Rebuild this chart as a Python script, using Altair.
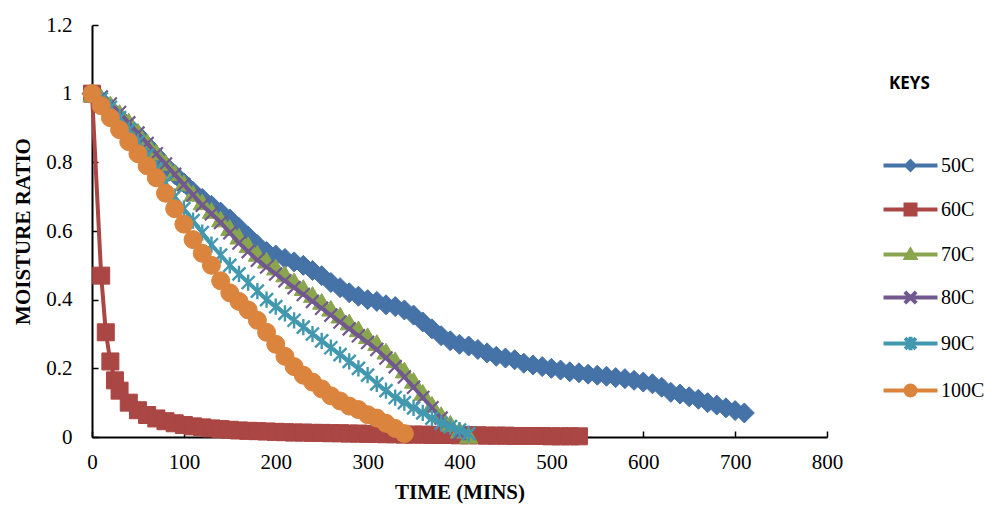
import altair as alt
import pandas as pd

keys = ["50C", "60C", "70C", "80C", "90C", "100C"]
colors = ["#4572A7", "#AA4643", "#89A54E", "#71588F", "#4198AF", "#DB843D"]

# 50C
t_50 = list(range(0, 720, 10))
mr_50 = [1.0, 0.98, 0.955, 0.93, 0.905, 0.88, 0.85, 0.82, 0.79, 0.765,
         0.74, 0.715, 0.695, 0.675, 0.655, 0.635, 0.61, 0.585, 0.56, 0.54,
         0.53, 0.52, 0.51, 0.50, 0.485, 0.47, 0.45, 0.435, 0.42, 0.41,
         0.40, 0.395, 0.385, 0.38, 0.37, 0.355, 0.335, 0.315, 0.295, 0.28,
         0.27, 0.265, 0.255, 0.245, 0.235, 0.23, 0.225, 0.215, 0.21, 0.205,
         0.20, 0.195, 0.19, 0.187, 0.183, 0.18, 0.177, 0.173, 0.17, 0.165,
         0.16, 0.155, 0.145, 0.13, 0.125, 0.117, 0.11, 0.10, 0.093, 0.085,
         0.077, 0.07]

# 60C
t_60 = [0, 10, 15, 20, 25, 30] + list(range(40, 540, 10))
mr_60 = [1.0, 0.47, 0.305, 0.22, 0.165, 0.135,
         0.100, 0.078, 0.064, 0.054, 0.046, 0.040, 0.035, 0.031, 0.028, 0.025,
         0.023, 0.021, 0.019, 0.018, 0.017, 0.016, 0.015, 0.014, 0.013, 0.013,
         0.012, 0.012, 0.011, 0.011, 0.010, 0.010, 0.009, 0.009, 0.008, 0.008,
         0.007, 0.007, 0.007, 0.006, 0.006, 0.006, 0.005, 0.005, 0.005, 0.004,
         0.004, 0.004, 0.003, 0.003, 0.003, 0.003, 0.002, 0.002, 0.002, 0.002]

# 70C
t_70 = list(range(0, 420, 10))
mr_70 = [1.0, 0.99, 0.97, 0.945, 0.92, 0.89, 0.86, 0.83, 0.80, 0.77,
         0.74, 0.71, 0.685, 0.66, 0.635, 0.61, 0.585, 0.56, 0.535, 0.515,
         0.495, 0.475, 0.455, 0.435, 0.415, 0.395, 0.375, 0.355, 0.335, 0.315,
         0.295, 0.275, 0.25, 0.225, 0.195, 0.165, 0.13, 0.095, 0.065, 0.04,
         0.02, 0.005]

# 80C
t_80 = list(range(0, 410, 10))
mr_80 = [1.0, 0.99, 0.97, 0.945, 0.915, 0.885, 0.855, 0.825, 0.795, 0.765,
         0.735, 0.705, 0.675, 0.65, 0.625, 0.595, 0.565, 0.54, 0.515, 0.495,
         0.475, 0.455, 0.435, 0.415, 0.395, 0.375, 0.355, 0.335, 0.315, 0.295,
         0.275, 0.255, 0.23, 0.205, 0.175, 0.145, 0.115, 0.085, 0.055, 0.03,
         0.01]

# 90C
t_90 = list(range(0, 420, 10))
mr_90 = [1.0, 0.985, 0.96, 0.93, 0.895, 0.86, 0.82, 0.78, 0.74, 0.70,
         0.665, 0.63, 0.595, 0.56, 0.53, 0.50, 0.475, 0.45, 0.425, 0.40,
         0.38, 0.36, 0.34, 0.32, 0.30, 0.28, 0.26, 0.24, 0.22, 0.20,
         0.18, 0.155, 0.135, 0.115, 0.10, 0.085, 0.07, 0.055, 0.04, 0.03,
         0.02, 0.01]

# 100C
t_100 = list(range(0, 350, 10))
mr_100 = [1.0, 0.965, 0.93, 0.895, 0.86, 0.825, 0.79, 0.755, 0.71, 0.665,
          0.62, 0.575, 0.535, 0.50, 0.455, 0.42, 0.395, 0.37, 0.34, 0.305,
          0.27, 0.235, 0.205, 0.18, 0.16, 0.14, 0.12, 0.105, 0.09, 0.08,
          0.065, 0.055, 0.04, 0.025, 0.01]

x_ticks = [0, 100, 200, 300, 400, 500, 600, 700, 800]
y_ticks = [0, 0.2, 0.4, 0.6, 0.8, 1.0, 1.2]

times = [t_50, t_60, t_70, t_80, t_90, t_100]
values = [mr_50, mr_60, mr_70, mr_80, mr_90, mr_100]

SERIF = "Liberation Serif"
W, H = 735, 412
TICK = 6

x_enc = alt.X("t:Q", scale=alt.Scale(domain=[0, 800], nice=False, zero=False),
              axis=alt.Axis(values=x_ticks, title="TIME (MINS)", format="d"))
y_enc = alt.Y("mr:Q", scale=alt.Scale(domain=[0, 1.2], nice=False),
              axis=alt.Axis(values=y_ticks, title="MOISTURE RATIO", format="~g"))

marker_styles = [
    dict(shape="diamond", filled=True, size=400, strokeWidth=1),
    dict(shape="square", filled=True, size=289, strokeWidth=1),
    dict(shape="triangle-up", filled=True, size=330, strokeWidth=1),
    dict(shape="M-1,-1L1,1M-1,1L1,-1", filled=False, size=169, strokeWidth=2.2),
    dict(shape="M-1,-1L1,1M-1,1L1,-1M0,-1.25L0,1.25", filled=False, size=169, strokeWidth=2.4),
    dict(shape="circle", filled=True, size=324, strokeWidth=1),
]

# legend symbols: a line through the marker; nested outlines make the markers look solid
legend_paths = [
    "M-2,0L2,0M0,-0.3L0.3,0L0,0.3L-0.3,0ZM0,-0.1L0.1,0L0,0.1L-0.1,0Z",
    "M-2,0L2,0M-0.37,-0.37L0.37,-0.37L0.37,0.37L-0.37,0.37ZM-0.12,-0.12L0.12,-0.12L0.12,0.12L-0.12,0.12Z",
    "M-2,0L2,0M0,-0.32L0.33,0.25L-0.33,0.25ZM0,-0.08L0.1,0.1L-0.1,0.1Z",
    "M-2,0L2,0M-0.42,-0.42L0.42,0.42M-0.42,0.42L0.42,-0.42",
    "M-2,0L2,0M-0.4,-0.4L0.4,0.4M-0.4,0.4L0.4,-0.4M0,-0.5L0,0.5",
    "M-2,0L2,0M0.37,0A0.37,0.37 0 1,1 -0.37,0A0.37,0.37 0 1,1 0.37,0ZM0.15,0A0.15,0.15 0 1,1 -0.15,0A0.15,0.15 0 1,1 0.15,0Z",
]

layers = []
for i, k in enumerate(keys):
    d = pd.DataFrame({"series": k, "t": times[i], "mr": values[i]})
    base = alt.Chart(d)
    line = base.mark_line(color=colors[i], strokeWidth=4).encode(x=x_enc, y=y_enc, order="t:Q")
    st = marker_styles[i]
    pts = base.mark_point(color=colors[i], stroke=colors[i], opacity=1, **st).encode(x=x_enc, y=y_enc)
    layers += [line, pts]

leg_spec = alt.Legend(
    title="KEYS", orient="none", legendX=797, legendY=51,
    titleFont="Open Sans", titleFontSize=17, titleFontWeight="bold", titleColor="black",
    titlePadding=57, labelFont=SERIF, labelFontSize=20, labelColor="black",
    symbolSize=729, rowPadding=16, labelOffset=15, symbolOffset=6,
    symbolStrokeWidth=4, symbolOpacity=1,
)

legend_df = pd.DataFrame({"series": keys})
leg = alt.Chart(legend_df).mark_point(filled=False, opacity=1).encode(
    color=alt.Color("series:N", scale=alt.Scale(domain=keys, range=colors), legend=leg_spec),
    shape=alt.Shape("series:N", scale=alt.Scale(domain=keys, range=legend_paths), legend=leg_spec),
).transform_filter("false")

chart = alt.layer(*layers, leg).properties(
    width=W, height=H,
    autosize=alt.AutoSizeParams(type="none"),
    padding={"left": 84, "top": 17, "right": 160, "bottom": 67},
).configure_view(stroke=None).configure_axis(
    labelFont=SERIF, labelFontSize=21, labelColor="black", labelFlush=False,
    titleFont=SERIF, titleFontSize=21, titleFontWeight="bold", titleColor="black",
    domainColor="black", domainWidth=2, ticks=False, tickSize=0,
    grid=True, gridColor="black", gridWidth=1.5, gridOpacity=1,
).configure_axisX(
    labelPadding=14, titlePadding=9, gridDash=[0, H - TICK, TICK, 3000],
).configure_axisY(
    labelPadding=20, titlePadding=12, gridDash=[TICK, 3000],
)

chart.save("out.html", embed_options={"renderer": "svg", "actions": False})
